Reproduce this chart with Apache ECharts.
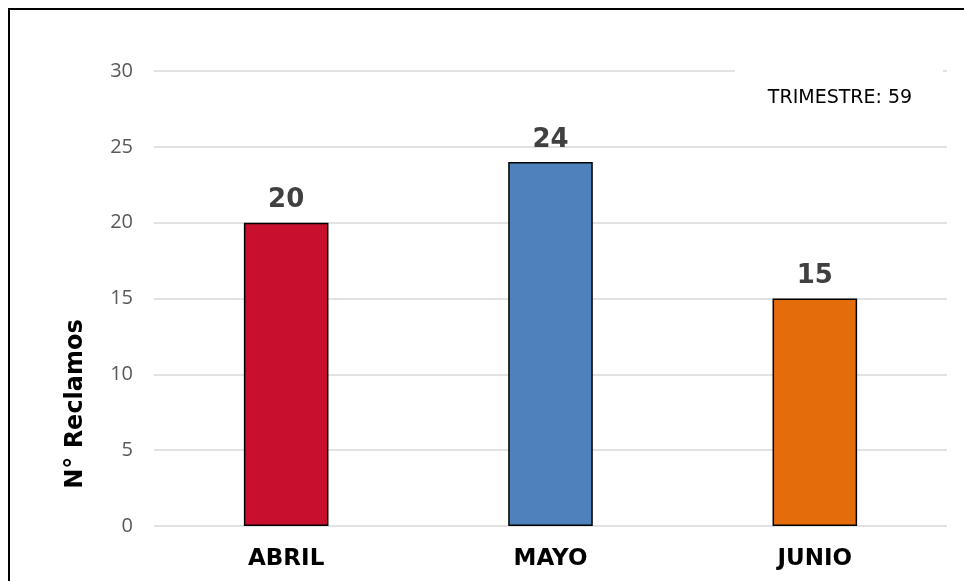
<!DOCTYPE html>
<html>
<head>
<meta charset="utf-8">
<script src="https://cdn.jsdelivr.net/npm/echarts@6/dist/echarts.min.js"></script>
<style>
  html, body { margin: 0; padding: 0; background: #fff; }
  #chart { width: 964px; height: 581px; }
</style>
</head>
<body>
<div id="chart"></div>
<script>
// meses del trimestre
var meses = ['ABRIL', 'MAYO', 'JUNIO'];
var reclamos = [20, 24, 15];
var colores = ['#C8102E', '#4F81BD', '#E46C0A'];
var totalTexto = 'TRIMESTRE: 59';
var ejeNombre = 'N° Reclamos';

var chart = echarts.init(document.getElementById('chart'));

var datos = reclamos.map(function (v, i) {
    return { value: v, itemStyle: { color: colores[i] } };
});

var option = {
    animation: false,
    grid: { left: 154, right: 17, top: 71, bottom: 55 },
    xAxis: {
        type: 'category',
        data: meses,
        axisLine: { show: false },
        axisTick: { show: false },
        axisLabel: {
            color: '#000', fontWeight: 'bold', fontSize: 23,
            fontFamily: 'DejaVu Sans', margin: 22
        }
    },
    yAxis: {
        type: 'value',
        min: 0, max: 30, interval: 5,
        axisLine: { show: false },
        axisTick: { show: false },
        splitLine: { lineStyle: { color: '#d9d9d9', width: 1.5 } },
        axisLabel: { color: '#595959', fontSize: 20, fontFamily: 'Open Sans', margin: 21 }
    },
    series: [{
        type: 'bar',
        data: datos,
        barWidth: '32%',
        itemStyle: { borderColor: '#000', borderWidth: 1.5 },
        label: {
            show: true, position: 'top', distance: 9,
            color: '#404040', fontWeight: 'bold', fontSize: 26,
            fontFamily: 'DejaVu Sans'
        }
    }],
    graphic: [
        {
            type: 'rect', z: 100, silent: true,
            shape: { x: 9, y: 9, width: 1200, height: 1200 },
            style: { fill: 'none', stroke: '#000', lineWidth: 2 }
        },
        {
            type: 'rect', z: 50, silent: true,
            shape: { x: 735, y: 62, width: 208, height: 70 },
            style: { fill: '#fff' }
        },
        {
            type: 'text', z: 60, silent: true,
            x: 840, y: 98,
            style: {
                text: totalTexto, fill: '#000', fontSize: 19,
                fontFamily: 'DejaVu Sans', align: 'center', verticalAlign: 'middle'
            }
        },
        {
            type: 'text', z: 60, silent: true,
            x: 76, y: 404, rotation: Math.PI / 2,
            style: {
                text: ejeNombre, fill: '#000', fontSize: 24, fontWeight: 'bold',
                fontFamily: 'DejaVu Sans', align: 'center', verticalAlign: 'middle'
            }
        }
    ]
};

chart.setOption(option);
</script>
</body>
</html>
